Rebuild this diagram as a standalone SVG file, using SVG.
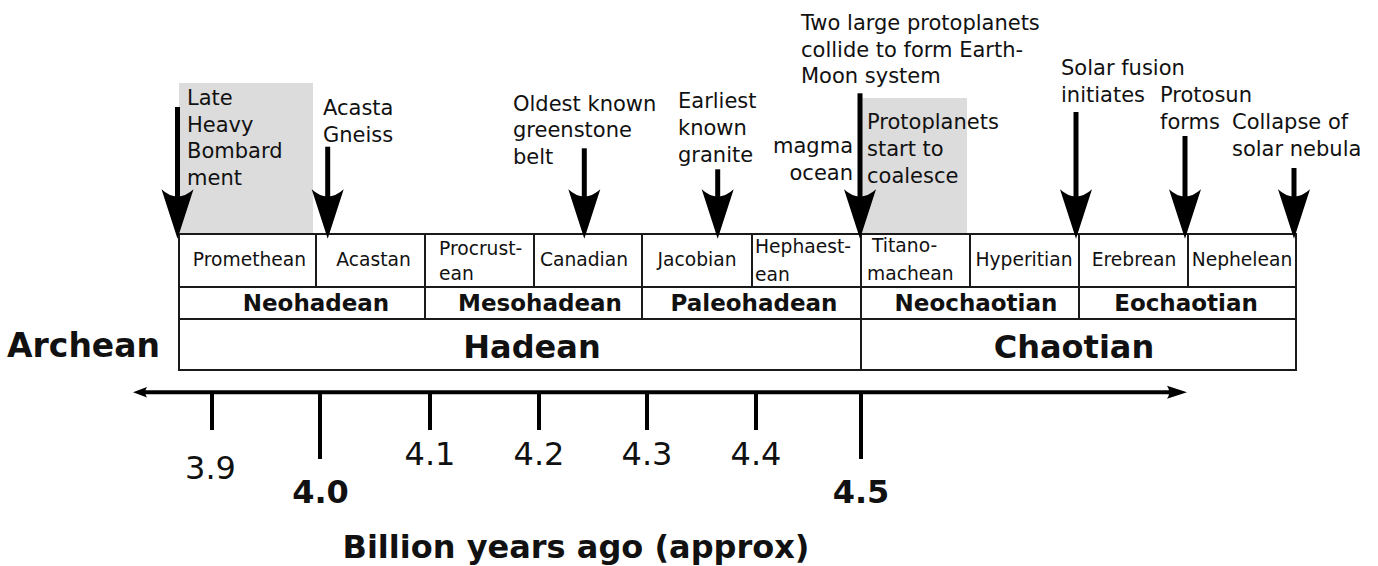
<svg xmlns="http://www.w3.org/2000/svg" width="1378" height="566" viewBox="0 0 1378 566">
<style>
text{font-family:"DejaVu Sans","Verdana",sans-serif;fill:#111}
.ann{font-size:21px}
.sub{font-size:18.7px;text-anchor:middle}
.subl{font-size:18.7px}
.mid{font-size:23px;font-weight:bold;text-anchor:middle}
.big{font-size:32px;font-weight:bold;text-anchor:middle}
.cell{fill:#fff;stroke:#1a1a1a;stroke-width:2}
.shade{fill:#dcdcdc}
.arr{stroke:#000;stroke-width:5;fill:none;marker-end:url(#head)}
.tick{stroke:#000;stroke-width:4}
.num{font-size:32px;text-anchor:middle}
.numb{font-size:32px;font-weight:bold;text-anchor:middle}
</style>
<defs>
<marker id="head" markerUnits="userSpaceOnUse" markerWidth="60" markerHeight="40" viewBox="-20 -15 45 30" refX="0" refY="0" orient="auto" overflow="visible">
<path d="M20,0 L-17,-12 Q-6,0 -17,12 Z" fill="#000"/>
</marker>
</defs>
<rect class="shade" x="179" y="83" width="134" height="151"/>
<rect class="shade" x="862" y="98" width="105" height="136"/>
<g id="cell-promethean"><rect class="cell" x="179" y="234" width="137" height="53"/><text class="sub" x="249.5" y="266">Promethean</text></g>
<g id="cell-acastan"><rect class="cell" x="316" y="234" width="109" height="53"/><text class="sub" x="373.5" y="266">Acastan</text></g>
<g id="cell-procrustean"><rect class="cell" x="425" y="234" width="109" height="53"/><text class="subl" x="439" y="255">Procrust-</text><text class="subl" x="439" y="280">ean</text></g>
<g id="cell-canadian"><rect class="cell" x="534" y="234" width="108" height="53"/><text class="sub" x="584" y="266">Canadian</text></g>
<g id="cell-jacobian"><rect class="cell" x="642" y="234" width="110" height="53"/><text class="sub" x="697" y="266">Jacobian</text></g>
<g id="cell-hephaestean"><rect class="cell" x="752" y="234" width="109" height="53"/><text class="subl" x="755" y="253">Hephaest-</text><text class="subl" x="755" y="281">ean</text></g>
<g id="cell-titanomachean"><rect class="cell" x="861" y="234" width="109" height="53"/><text class="subl" x="872" y="252">Titano-</text><text class="subl" x="867" y="280">machean</text></g>
<g id="cell-hyperitian"><rect class="cell" x="970" y="234" width="109" height="53"/><text class="sub" x="1024" y="266">Hyperitian</text></g>
<g id="cell-erebrean"><rect class="cell" x="1079" y="234" width="109" height="53"/><text class="sub" x="1134" y="266">Erebrean</text></g>
<g id="cell-nephelean"><rect class="cell" x="1188" y="234" width="108" height="53"/><text class="sub" x="1242" y="266">Nephelean</text></g>
<g id="cell-neohadean"><rect class="cell" x="179" y="287" width="246" height="32"/><text class="mid" x="316" y="311">Neohadean</text></g>
<g id="cell-mesohadean"><rect class="cell" x="425" y="287" width="217" height="32"/><text class="mid" x="540" y="311">Mesohadean</text></g>
<g id="cell-paleohadean"><rect class="cell" x="642" y="287" width="219" height="32"/><text class="mid" x="754" y="311">Paleohadean</text></g>
<g id="cell-neochaotian"><rect class="cell" x="861" y="287" width="218" height="32"/><text class="mid" x="976" y="311">Neochaotian</text></g>
<g id="cell-eochaotian"><rect class="cell" x="1079" y="287" width="217" height="32"/><text class="mid" x="1186" y="311">Eochaotian</text></g>
<g id="cell-hadean"><rect class="cell" x="179" y="319" width="682" height="51"/><text class="big" x="532" y="358">Hadean</text></g>
<g id="cell-chaotian"><rect class="cell" x="861" y="319" width="435" height="51"/><text class="big" x="1074" y="358">Chaotian</text></g>
<g id="label-archean"><text class="big" x="7" y="357" style="text-anchor:start;font-size:33px">Archean</text></g>
<g id="ann-lhb"><text class="ann" x="187" y="105">Late</text><text class="ann" x="187" y="131.7">Heavy</text><text class="ann" x="187" y="158.4">Bombard</text><text class="ann" x="187" y="185">ment</text></g>
<g id="ann-acasta"><text class="ann" x="323" y="115">Acasta</text><text class="ann" x="323" y="141.7">Gneiss</text></g>
<g id="ann-greenstone"><text class="ann" x="513" y="110.7">Oldest known</text><text class="ann" x="513" y="137.3">greenstone</text><text class="ann" x="513" y="164">belt</text></g>
<g id="ann-granite"><text class="ann" x="678" y="108.3">Earliest</text><text class="ann" x="678" y="135">known</text><text class="ann" x="678" y="161.7">granite</text></g>
<g id="ann-magma"><text class="ann" x="853" y="153.3" text-anchor="end">magma</text><text class="ann" x="853" y="180" text-anchor="end">ocean</text></g>
<g id="ann-moon"><text class="ann" x="801" y="30">Two large protoplanets</text><text class="ann" x="801" y="56.7">collide to form Earth-</text><text class="ann" x="801" y="83.3">Moon system</text></g>
<g id="ann-protoplanets"><text class="ann" x="867" y="129.3">Protoplanets</text><text class="ann" x="867" y="156">start to</text><text class="ann" x="867" y="182.7">coalesce</text></g>
<g id="ann-fusion"><text class="ann" x="1061" y="75">Solar fusion</text><text class="ann" x="1061" y="102">initiates</text></g>
<g id="ann-protosun"><text class="ann" x="1160" y="102">Protosun</text><text class="ann" x="1160" y="129">forms</text></g>
<g id="ann-nebula"><text class="ann" x="1232" y="129">Collapse of</text><text class="ann" x="1232" y="156">solar nebula</text></g>
<g id="connectors">
<line class="arr" x1="177.5" y1="107" x2="177.5" y2="212"/>
<line class="arr" x1="327.7" y1="146.7" x2="327.7" y2="212"/>
<line class="arr" x1="584.3" y1="148.3" x2="584.3" y2="212"/>
<line class="arr" x1="717.7" y1="169.3" x2="717.7" y2="212"/>
<line class="arr" x1="860" y1="93.3" x2="860" y2="212"/>
<line class="arr" x1="1076" y1="112" x2="1076" y2="212"/>
<line class="arr" x1="1185" y1="136" x2="1185" y2="212"/>
<line class="arr" x1="1294" y1="168" x2="1294" y2="212"/>
</g>
<g id="axis">
<line x1="142" y1="392.3" x2="1172" y2="392.3" stroke="#000" stroke-width="4"/>
<path d="M133,392.3 L147,387 Q143.5,392.3 147,397.6 Z" fill="#000"/>
<path d="M1187,392.3 L1167,385.8 Q1171.5,392.3 1167,398.8 Z" fill="#000"/>
<line class="tick" x1="212" y1="392" x2="212" y2="430"/>
<line class="tick" x1="320" y1="392" x2="320" y2="459"/>
<line class="tick" x1="430" y1="392" x2="430" y2="430"/>
<line class="tick" x1="539" y1="392" x2="539" y2="430"/>
<line class="tick" x1="647" y1="392" x2="647" y2="430"/>
<line class="tick" x1="756" y1="392" x2="756" y2="430"/>
<line class="tick" x1="861" y1="392" x2="861" y2="459"/>
<text class="num" x="210.5" y="479">3.9</text>
<text class="numb" x="320.5" y="503">4.0</text>
<text class="num" x="430" y="465">4.1</text>
<text class="num" x="539" y="465">4.2</text>
<text class="num" x="647" y="465">4.3</text>
<text class="num" x="756" y="465">4.4</text>
<text class="numb" x="861" y="503">4.5</text>
<text class="big" x="576" y="558">Billion years ago (approx)</text>
</g>
</svg>
